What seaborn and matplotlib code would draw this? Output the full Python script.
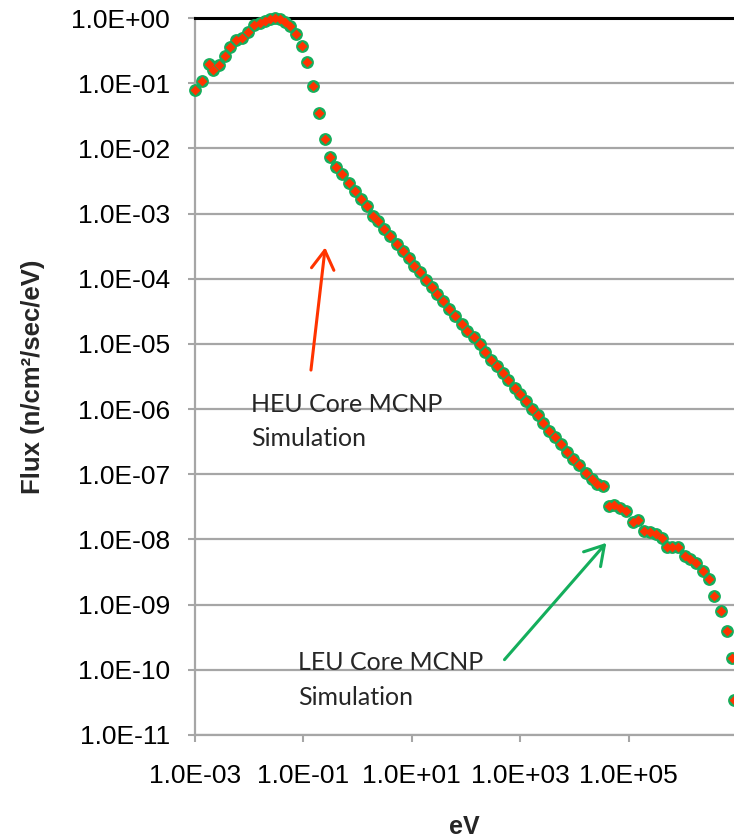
import numpy as np
import pandas as pd
import seaborn as sns
import matplotlib
matplotlib.use('Agg')
import matplotlib.pyplot as plt
from matplotlib.ticker import FixedLocator, FuncFormatter, NullLocator

# energy bins (eV)
energy = [1.0e-3, 1.32e-3, 1.78e-3, 2.19e-3, 2.82e-3, 3.55e-3, 4.47e-3, 5.75e-3, 7.24e-3, 9.55e-3,
          1.23e-2, 1.58e-2, 1.95e-2, 2.40e-2, 3.02e-2, 3.72e-2, 4.57e-2, 5.62e-2, 7.24e-2, 9.33e-2,
          1.17e-1, 1.51e-1, 1.95e-1, 2.51e-1, 3.16e-1, 4.07e-1, 5.25e-1, 7.08e-1, 8.91e-1, 1.15,
          1.48, 1.91, 2.40, 3.09, 3.98, 5.25, 6.76, 8.71, 11.2, 14.1,
          18.2, 23.4, 29.5, 38.0, 49.0, 63.1, 83.2, 105, 138, 178,
          224, 295, 380, 490, 603, 794, 977, 1.26e3, 1.62e3, 2.09e3,
          2.69e3, 3.47e3, 4.37e3, 5.75e3, 7.41e3, 9.55e3, 1.23e4, 1.62e4, 2.09e4, 2.63e4,
          3.31e4, 4.27e4, 5.37e4, 6.92e4, 8.91e4, 1.20e5, 1.51e5, 1.91e5, 2.45e5, 3.16e5,
          4.07e5, 5.01e5, 6.46e5, 8.32e5, 1.10e6, 1.35e6, 1.74e6, 2.34e6, 3.02e6, 3.80e6,
          5.01e6, 6.46e6, 7.94e6, 8.71e6]

leu_flux = [7.8e-2, 1.07e-1, 1.95e-1, 1.58e-1, 1.91e-1, 2.63e-1, 3.55e-1, 4.57e-1, 4.90e-1, 6.03e-1,
            7.76e-1, 8.32e-1, 9.12e-1, 9.77e-1, 0.995, 9.77e-1, 8.71e-1, 7.41e-1, 5.62e-1, 3.72e-1,
            2.14e-1, 8.91e-2, 3.47e-2, 1.41e-2, 7.41e-3, 5.13e-3, 3.98e-3, 2.95e-3, 2.19e-3, 1.66e-3,
            1.32e-3, 9.33e-4, 7.59e-4, 5.75e-4, 4.57e-4, 3.47e-4, 2.69e-4, 2.09e-4, 1.58e-4, 1.26e-4,
            9.55e-5, 7.59e-5, 5.75e-5, 4.57e-5, 3.47e-5, 2.69e-5, 2.04e-5, 1.58e-5, 1.26e-5, 1.00e-5,
            7.41e-6, 5.75e-6, 4.57e-6, 3.63e-6, 2.75e-6, 2.14e-6, 1.70e-6, 1.32e-6, 1.00e-6, 8.13e-7,
            6.17e-7, 4.68e-7, 3.72e-7, 2.95e-7, 2.19e-7, 1.70e-7, 1.38e-7, 1.05e-7, 8.51e-8, 7.08e-8,
            6.61e-8, 3.24e-8, 3.39e-8, 3.02e-8, 2.75e-8, 1.86e-8, 2.00e-8, 1.35e-8, 1.29e-8, 1.20e-8,
            1.05e-8, 7.76e-9, 7.76e-9, 7.59e-9, 5.50e-9, 5.01e-9, 4.37e-9, 3.24e-9, 2.45e-9, 1.38e-9,
            7.94e-10, 3.98e-10, 1.51e-10, 3.47e-11]

heu_flux = [7.8e-2, 1.07e-1, 1.95e-1, 1.62e-1, 1.91e-1, 2.63e-1, 3.55e-1, 4.57e-1, 4.90e-1, 6.03e-1,
            7.76e-1, 8.32e-1, 9.12e-1, 9.77e-1, 0.995, 9.77e-1, 8.71e-1, 7.41e-1, 5.62e-1, 3.72e-1,
            2.14e-1, 8.91e-2, 3.47e-2, 1.41e-2, 7.41e-3, 5.13e-3, 3.98e-3, 2.95e-3, 2.19e-3, 1.66e-3,
            1.32e-3, 9.33e-4, 7.59e-4, 5.75e-4, 4.57e-4, 3.47e-4, 2.69e-4, 2.09e-4, 1.58e-4, 1.26e-4,
            9.55e-5, 7.59e-5, 5.75e-5, 4.57e-5, 3.47e-5, 2.69e-5, 2.04e-5, 1.58e-5, 1.26e-5, 1.00e-5,
            7.41e-6, 5.75e-6, 4.57e-6, 3.63e-6, 2.75e-6, 2.14e-6, 1.70e-6, 1.32e-6, 1.00e-6, 8.13e-7,
            6.17e-7, 4.68e-7, 3.72e-7, 2.95e-7, 2.19e-7, 1.70e-7, 1.38e-7, 1.05e-7, 8.51e-8, 7.08e-8,
            6.61e-8, 3.24e-8, 3.39e-8, 3.02e-8, 2.75e-8, 1.86e-8, 2.00e-8, 1.35e-8, 1.29e-8, 1.20e-8,
            1.05e-8, 7.76e-9, 7.76e-9, 7.59e-9, 5.50e-9, 5.01e-9, 4.37e-9, 3.24e-9, 2.45e-9, 1.38e-9,
            7.94e-10, 3.98e-10, 1.51e-10, 3.47e-11]

x_ticks = [1e-3, 1e-1, 1e1, 1e3, 1e5]
y_ticks = [10.0 ** k for k in range(-11, 1)]

GREEN = '#14AE5C'
RED = '#FF3300'
GRAY = '#A6A6A6'

sns.set_style('white')
plt.rcParams['font.family'] = ['Liberation Sans', 'DejaVu Sans']

df = pd.DataFrame({'eV': energy, 'LEU': leu_flux, 'HEU': heu_flux})

fig = plt.figure(figsize=(7.34, 8.39), dpi=100)
ax = fig.add_axes([195 / 734, 1 - 735 / 839, 539 / 734, 717 / 839])

sns.scatterplot(data=df, x='eV', y='LEU', ax=ax, marker='o', s=85, color=GREEN,
                linewidth=0, zorder=3, clip_on=False)
sns.scatterplot(data=df, x='eV', y='HEU', ax=ax, marker='D', s=26, color=RED,
                linewidth=0, zorder=4, clip_on=False)

ax.set_xscale('log')
ax.set_yscale('log')
ax.set_xlim(1e-3, 10 ** 6.945)
ax.set_ylim(1e-11, 1.0)

fmt = FuncFormatter(lambda v, p: f'{v:.1E}')
ax.xaxis.set_major_locator(FixedLocator(x_ticks))
ax.yaxis.set_major_locator(FixedLocator(y_ticks))
ax.xaxis.set_minor_locator(NullLocator())
ax.yaxis.set_minor_locator(NullLocator())
ax.xaxis.set_major_formatter(fmt)
ax.yaxis.set_major_formatter(fmt)

ax.yaxis.grid(True, color=GRAY, lw=1.6, zorder=0)
ax.set_axisbelow(True)
ax.tick_params(axis='both', which='major', direction='out', length=5, width=1.5,
               color=GRAY, labelsize=19, labelcolor='black', left=True, bottom=True)
ax.tick_params(axis='y', pad=13)
ax.tick_params(axis='x', pad=16)

for side in ['left', 'bottom']:
    ax.spines[side].set_color(GRAY)
    ax.spines[side].set_linewidth(1.6)
ax.spines['right'].set_visible(False)
ax.spines['top'].set_color('black')
ax.spines['top'].set_linewidth(2.2)

ax.set_xlabel('eV', fontsize=18, fontweight='bold', labelpad=19)
ax.set_ylabel('Flux (n/cm²/sec/eV)', fontsize=18.5, fontweight='bold', labelpad=19)

# annotations
note_font = ['Lato', 'DejaVu Sans']
ax.text(0.0108, 9.0e-7, 'HEU Core MCNP', fontsize=18, family=note_font, va='baseline', ha='left')
ax.text(0.0108, 2.7e-7, 'Simulation', fontsize=18, family=note_font, va='baseline', ha='left')
ax.text(0.0794, 1.0e-10, 'LEU Core MCNP', fontsize=18, family=note_font, va='baseline', ha='left')
ax.text(0.0794, 2.9e-11, 'Simulation', fontsize=18, family=note_font, va='baseline', ha='left')

head = '->,head_length=0.75,head_width=0.45'
ax.annotate('', xy=(0.256, 3.33e-4), xytext=(0.136, 3.6e-6),
            arrowprops=dict(arrowstyle=head, color=RED, lw=2.2, mutation_scale=18))
ax.annotate('', xy=(4.2e4, 9.55e-9), xytext=(475, 1.33e-10),
            arrowprops=dict(arrowstyle=head, color=GREEN, lw=2.2, mutation_scale=18))

fig.savefig('out.png', dpi=100)
